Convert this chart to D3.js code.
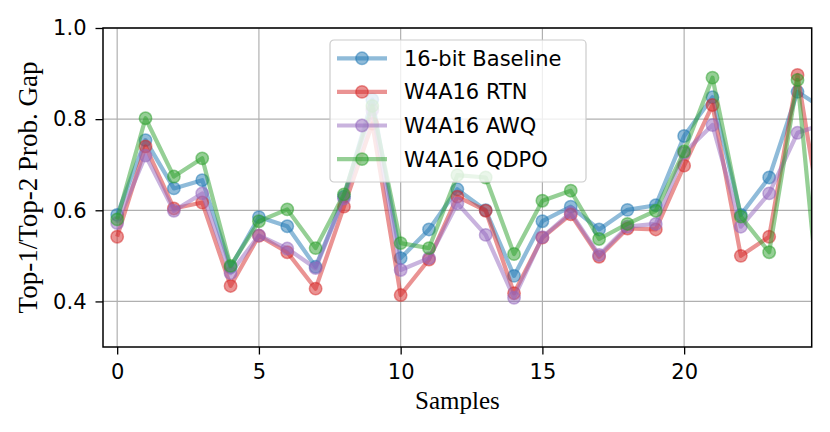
<!DOCTYPE html>
<html>
<head>
<meta charset="utf-8">
<script src="https://d3js.org/d3.v7.min.js"></script>
<style>
  body { margin: 0; background: #fff; }
  .tick text { font-family: "DejaVu Sans", sans-serif; }
</style>
</head>
<body>
<div id="chart"></div>
<script>
// samples 0..25 (the last one falls outside the visible x range and is clipped)
var samples = d3.range(0, 26);
var seriesNames = ["16-bit Baseline", "W4A16 RTN", "W4A16 AWQ", "W4A16 QDPO"];
var baseline = [0.590,0.754,0.648,0.666,0.475,0.585,0.565,0.476,0.630,0.843,0.495,0.558,0.646,0.600,0.456,0.576,0.608,0.558,0.601,0.611,0.763,0.848,0.590,0.672,0.860,0.819];
var rtn      = [0.542,0.740,0.604,0.617,0.434,0.544,0.508,0.428,0.608,0.790,0.414,0.492,0.630,0.599,0.418,0.540,0.591,0.498,0.560,0.558,0.698,0.831,0.500,0.542,0.897,0.516];
var awq      = [0.572,0.720,0.599,0.637,0.462,0.545,0.516,0.473,0.626,0.820,0.469,0.495,0.615,0.546,0.408,0.541,0.595,0.502,0.564,0.570,0.726,0.787,0.564,0.637,0.770,0.791];
var qdpo     = [0.580,0.802,0.674,0.714,0.478,0.576,0.602,0.517,0.635,0.829,0.528,0.517,0.677,0.672,0.504,0.621,0.643,0.537,0.570,0.599,0.729,0.891,0.586,0.508,0.886,0.240];
var xTicks = [0, 5, 10, 15, 20];
var yTicks = [0.4, 0.6, 0.8, 1.0];
var colors = ["#1f77b4", "#d62728", "#9467bd", "#2ca02c"];

var allSeries = [baseline, rtn, awq, qdpo];

var width = 830, height = 432;
var margin = {left: 103, top: 28, right: 18.3, bottom: 85};
var w = width - margin.left - margin.right,
    h = height - margin.top - margin.bottom;

var svg = d3.select("#chart").append("svg")
  .attr("width", width)
  .attr("height", height);

var g = svg.append("g")
  .attr("transform", "translate(" + margin.left + "," + margin.top + ")");

var x = d3.scaleLinear().domain([-0.5, 24.5]).range([0, w]);
var y = d3.scaleLinear().domain([0.3, 1.0]).range([h, 0]);

g.append("clipPath").attr("id", "clip")
  .append("rect").attr("width", w).attr("height", h);

// grid
g.selectAll(".vgrid").data(xTicks).enter().append("line")
  .attr("x1", d => x(d)).attr("x2", d => x(d))
  .attr("y1", 0).attr("y2", h)
  .attr("stroke", "#b0b0b0").attr("stroke-width", 1.2);
g.selectAll(".hgrid").data(yTicks).enter().append("line")
  .attr("x1", 0).attr("x2", w)
  .attr("y1", d => y(d)).attr("y2", d => y(d))
  .attr("stroke", "#b0b0b0").attr("stroke-width", 1.2);

// series
var plot = g.append("g").attr("clip-path", "url(#clip)");
var line = d3.line()
  .x((d, i) => x(samples[i]))
  .y(d => y(d));

allSeries.forEach(function(vals, k) {
  plot.append("path")
    .datum(vals)
    .attr("d", line)
    .attr("fill", "none")
    .attr("stroke", colors[k])
    .attr("stroke-opacity", 0.5)
    .attr("stroke-width", 4.2)
    .attr("stroke-linejoin", "round");
  plot.selectAll(".m" + k).data(vals).enter().append("circle")
    .attr("cx", (d, i) => x(samples[i]))
    .attr("cy", d => y(d))
    .attr("r", 6.2)
    .attr("fill", colors[k]).attr("fill-opacity", 0.5)
    .attr("stroke", colors[k]).attr("stroke-opacity", 0.5)
    .attr("stroke-width", 1.5);
});

// axes
var xAxis = g.append("g")
  .attr("transform", "translate(0," + h + ")")
  .call(d3.axisBottom(x).tickValues(xTicks).tickSize(7.5).tickPadding(10).tickFormat(d3.format("d")));
var yAxis = g.append("g")
  .call(d3.axisLeft(y).tickValues(yTicks).tickSize(7.5).tickPadding(9).tickFormat(d3.format(".1f")));
[xAxis, yAxis].forEach(function(a) {
  a.select(".domain").remove();
  a.selectAll(".tick line").attr("stroke", "#000").attr("stroke-width", 1.3);
  a.selectAll(".tick text").attr("font-size", 21).attr("fill", "#000");
});

g.append("rect")
  .attr("width", w).attr("height", h)
  .attr("fill", "none").attr("stroke", "#000").attr("stroke-width", 1.5);

// axis labels
svg.append("text")
  .attr("x", margin.left + w / 2).attr("y", 409)
  .attr("text-anchor", "middle")
  .attr("font-family", "Liberation Serif, Times New Roman, serif")
  .attr("font-size", 25)
  .text("Samples");
svg.append("text")
  .attr("transform", "translate(37," + (margin.top + h / 2) + ") rotate(-90)")
  .attr("text-anchor", "middle")
  .attr("font-family", "Liberation Serif, Times New Roman, serif")
  .attr("font-size", 27)
  .text("Top-1/Top-2 Prob. Gap");

// legend
var leg = svg.append("g").attr("transform", "translate(330,40)");
leg.append("rect")
  .attr("width", 256).attr("height", 142)
  .attr("rx", 4)
  .attr("fill", "#fff").attr("fill-opacity", 0.8)
  .attr("stroke", "#cccccc").attr("stroke-width", 1.2);
seriesNames.forEach(function(name, k) {
  var cy = 18.3 + k * 33.6;
  leg.append("line")
    .attr("x1", 7).attr("x2", 57).attr("y1", cy).attr("y2", cy)
    .attr("stroke", colors[k]).attr("stroke-opacity", 0.5).attr("stroke-width", 4.2);
  leg.append("circle")
    .attr("cx", 32).attr("cy", cy).attr("r", 6.2)
    .attr("fill", colors[k]).attr("fill-opacity", 0.5)
    .attr("stroke", colors[k]).attr("stroke-opacity", 0.5).attr("stroke-width", 1.5);
  leg.append("text")
    .attr("x", 74).attr("y", cy + 7.5)
    .attr("font-family", "DejaVu Sans, sans-serif")
    .attr("font-size", 21)
    .text(name);
});
</script>
</body>
</html>
